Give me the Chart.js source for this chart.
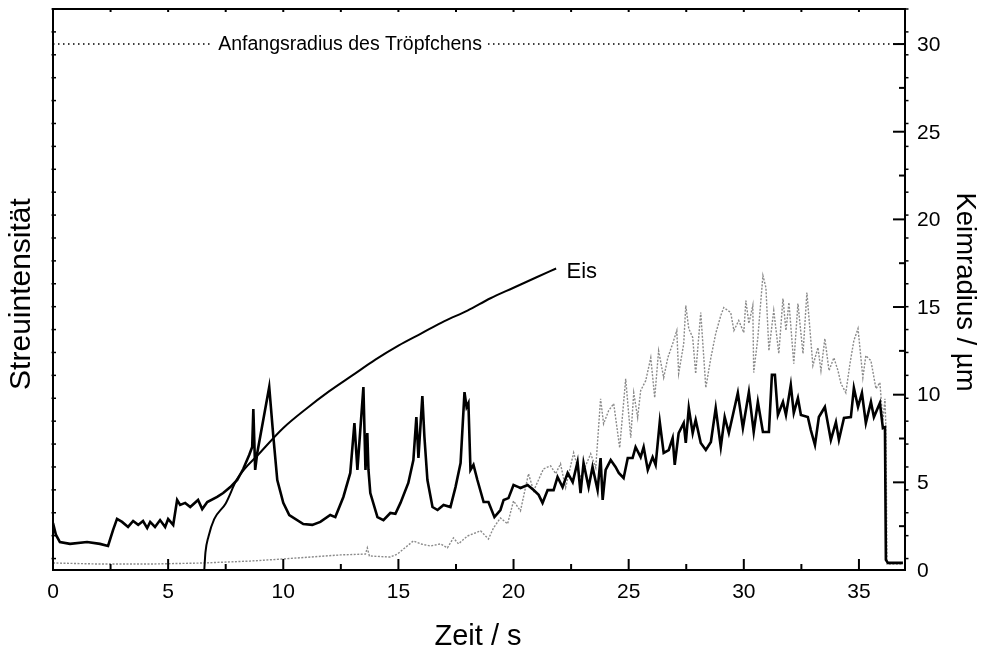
<!DOCTYPE html>
<html>
<head>
<meta charset="utf-8">
<script src="https://cdn.jsdelivr.net/npm/chart.js@4"></script>
<style>
  html, body { margin: 0; padding: 0; background: #fff; }
  canvas { display: block; }
</style>
</head>
<body>
<canvas id="chart" width="991" height="648"></canvas>
<script>
// ---- data -------------------------------------------------------------------
// black line: scattered intensity (left axis, arbitrary units)
const zeitStreu = [0, 0.13, 0.3, 0.74, 1.48, 2.04, 2.39, 2.61, 2.78, 3.0, 3.26, 3.48, 3.7, 3.91, 4.09, 4.22,
  4.43, 4.65, 4.87, 5.0, 5.22, 5.39, 5.52, 5.74, 5.96, 6.3, 6.48, 6.7, 7.13, 7.39, 7.7, 8.0, 8.26, 8.52,
  8.65, 8.7, 8.78, 8.87, 9.13, 9.39, 9.57, 9.74, 10.0, 10.26, 10.87, 11.26, 11.61, 12.04, 12.26, 12.61,
  12.91, 13.09, 13.22, 13.48, 13.57, 13.65, 13.7, 13.78, 14.09, 14.35, 14.65, 14.87, 15.09, 15.43, 15.65,
  15.78, 15.87, 16.04, 16.13, 16.26, 16.48, 16.7, 16.96, 17.26, 17.48, 17.7, 17.87, 17.96, 18.04, 18.13,
  18.26, 18.43, 18.7, 18.91, 19.17, 19.43, 19.57, 19.78, 20.0, 20.22, 20.3, 20.61, 20.87, 21.09, 21.26,
  21.48, 21.74, 21.91, 22.13, 22.35, 22.57, 22.78, 22.91, 23.04, 23.26, 23.43, 23.65, 23.78, 23.87, 24.0,
  24.22, 24.43, 24.57, 24.78, 24.96, 25.17, 25.3, 25.52, 25.65, 25.83, 26.04, 26.17, 26.35, 26.52, 26.74,
  26.91, 27.0, 27.17, 27.39, 27.48, 27.61, 27.78, 27.91, 28.13, 28.35, 28.57, 28.78, 29.0, 29.17, 29.35,
  29.74, 29.96, 30.22, 30.43, 30.61, 30.83, 31.09, 31.22, 31.35, 31.48, 31.7, 31.83, 32.04, 32.17, 32.35,
  32.48, 32.78, 32.91, 33.09, 33.26, 33.52, 33.78, 34.0, 34.13, 34.35, 34.65, 34.78, 34.96, 35.13, 35.3,
  35.52, 35.65, 35.91, 36.04, 36.13, 36.17, 36.26, 36.91];
const streuIntensitaet = [1.55, 1.03, 0.72, 0.64, 0.72, 0.64, 0.55, 1.25, 1.73, 1.6, 1.38, 1.64, 1.47, 1.64,
  1.33, 1.6, 1.38, 1.68, 1.38, 1.73, 1.47, 2.56, 2.34, 2.43, 2.25, 2.56, 2.16, 2.47, 2.69, 2.86, 3.12, 3.43,
  3.91, 4.52, 4.87, 6.53, 3.87, 4.61, 6.05, 7.49, 5.31, 3.43, 2.43, 1.9, 1.51, 1.47, 1.6, 1.9, 1.81, 2.69,
  3.74, 5.92, 3.87, 7.49, 3.87, 5.48, 3.87, 2.86, 1.81, 1.68, 1.99, 1.95, 2.43, 3.3, 4.3, 6.18, 4.39, 7.1,
  5.31, 3.43, 2.25, 2.12, 2.34, 2.25, 3.12, 4.17, 7.27, 6.62, 6.79, 3.87, 4.09, 3.43, 2.47, 2.47, 1.81,
  2.12, 2.56, 2.64, 3.21, 3.12, 3.08, 3.21, 2.99, 2.78, 2.43, 2.99, 2.99, 3.56, 3.12, 3.74, 3.34, 4.22,
  2.86, 4.17, 3.12, 4.0, 2.99, 4.39, 2.56, 3.87, 4.3, 4.0, 3.74, 3.52, 4.39, 4.39, 4.87, 4.43, 4.87, 3.87,
  4.43, 4.09, 5.96, 4.61, 4.74, 5.26, 4.09, 5.48, 5.92, 5.05, 6.57, 5.48, 6.05, 5.05, 4.74, 5.09, 6.57,
  4.87, 6.18, 5.48, 7.23, 5.7, 7.27, 5.53, 6.84, 5.53, 5.53, 8.02, 8.02, 6.27, 6.84, 6.27, 7.58, 6.36,
  7.01, 6.27, 6.18, 5.61, 4.96, 6.18, 6.62, 5.18, 5.96, 5.18, 6.14, 6.18, 7.45, 6.62, 7.23, 5.92, 6.84,
  6.18, 6.79, 5.7, 5.74, -0.06, -0.19, -0.19];

// grey dotted line (right axis, µm)
const zeitGrau = [0, 2.04, 4.22, 6.52, 8.57, 10.0, 12.48, 13.57, 13.65, 13.74, 14.65, 14.96, 15.65, 15.96,
  16.39, 16.83, 17.13, 17.39, 17.61, 18.0, 18.57, 18.91, 19.13, 19.43, 19.74, 20.0, 20.3, 20.65, 20.87,
  21.3, 21.61, 21.83, 22.04, 22.26, 22.61, 22.91, 23.35, 23.57, 23.78, 23.91, 24.13, 24.35, 24.61, 24.87,
  25.09, 25.22, 25.39, 25.52, 25.74, 25.96, 26.13, 26.3, 26.52, 26.7, 26.91, 27.09, 27.17, 27.39, 27.48,
  27.61, 27.78, 27.91, 28.13, 28.35, 28.57, 28.78, 29.0, 29.13, 29.43, 29.57, 29.78, 30.0, 30.09, 30.22,
  30.39, 30.43, 30.61, 30.83, 30.96, 31.09, 31.3, 31.52, 31.7, 31.83, 31.96, 32.17, 32.35, 32.57, 32.74,
  33.0, 33.22, 33.35, 33.52, 33.7, 33.91, 34.09, 34.22, 34.43, 34.61, 34.78, 34.96, 35.17, 35.3, 35.52,
  35.74, 35.91, 36.04, 36.13, 36.17, 36.22, 36.91];
const radiusGrau = [0.4, 0.34, 0.34, 0.4, 0.51, 0.63, 0.86, 0.91, 1.26, 0.8, 0.74, 0.91, 1.66, 1.49, 1.37,
  1.49, 1.26, 1.83, 1.49, 1.94, 2.23, 1.77, 2.4, 2.97, 2.63, 3.94, 3.37, 5.49, 4.51, 5.77, 5.94, 5.49,
  6.06, 4.69, 6.69, 5.26, 6.63, 5.83, 9.77, 8.34, 9.09, 9.49, 6.97, 10.91, 7.54, 10.11, 8.69, 10.23, 10.8,
  12.11, 9.83, 12.51, 10.97, 12.11, 12.91, 13.66, 11.2, 12.91, 15.09, 13.77, 13.26, 11.2, 14.69, 10.4,
  12.11, 13.49, 14.51, 14.97, 14.69, 13.66, 14.23, 13.54, 15.37, 14.06, 15.09, 11.26, 13.26, 16.8, 16.11,
  12.51, 14.8, 12.34, 15.49, 13.66, 15.26, 11.77, 15.2, 12.34, 15.83, 11.66, 12.69, 11.37, 13.2, 11.37,
  12.11, 11.37, 10.63, 10.11, 11.77, 13.09, 13.77, 10.97, 12.23, 11.94, 10.34, 10.69, 8.51, 9.77, 8.11,
  0.34, 0.34];

// ice germ radius (right axis, µm)
const zeitEis = [6.57, 6.62, 6.75, 7.0, 7.5, 8, 9, 10, 11, 12, 13, 14, 15, 16, 17, 18, 19, 20, 21, 21.85];
const radiusEis = [0, 1.0, 1.9, 2.9, 3.8, 5.2, 6.7, 8.1, 9.2, 10.2, 11.1, 12.0, 12.8, 13.5, 14.2, 14.8,
  15.5, 16.1, 16.7, 17.2];

// initial droplet radius
const anfangsRadius = 30;

// axes
const xMin = 0, xMax = 37;
const xTicks = [0, 5, 10, 15, 20, 25, 30, 35];
const xMinorTicks = [2.5, 7.5, 12.5, 17.5, 22.5, 27.5, 32.5];
const radiusMin = 0, radiusMax = 32;
const radiusTicks = [0, 5, 10, 15, 20, 25, 30];
const radiusMinorTicks = [2.5, 7.5, 12.5, 17.5, 22.5, 27.5];
const streuMin = -0.5, streuMax = 24;

const FONT = '"Liberation Sans", Arial, Helvetica, sans-serif';
const toXY = (xs, ys) => xs.map((x, i) => ({ x, y: ys[i] }));

// ---- axes, ticks and annotations drawn through the chart's scales -----------
const frameAxes = {
  id: 'frameAxes',
  afterDatasetsDraw(chart) {
    const { ctx, scales } = chart;
    const x = scales.x, yR = scales.yR;

    // droplet radius label on a white background
    const lx = x.getPixelForValue(12.9), ly = yR.getPixelForValue(anfangsRadius);
    ctx.save();
    ctx.font = '19.5px ' + FONT;
    const txt = 'Anfangsradius des Tröpfchens';
    const w = ctx.measureText(txt).width;
    ctx.fillStyle = '#fff';
    ctx.fillRect(lx - w / 2 - 6, ly - 10, w + 12, 20);
    ctx.fillStyle = '#000';
    ctx.textAlign = 'center';
    ctx.textBaseline = 'middle';
    ctx.fillText(txt, lx, ly + 1);

    // "Eis" label
    ctx.font = '22px ' + FONT;
    ctx.textAlign = 'left';
    ctx.fillText('Eis', x.getPixelForValue(22.3), yR.getPixelForValue(17.0));
    ctx.restore();
  },
  afterDraw(chart) {
    const { ctx, chartArea: a, scales } = chart;
    const x = scales.x, yR = scales.yR, yL = scales.yL;
    const L = Math.round(a.left), R = Math.round(a.right), T = Math.round(a.top), B = Math.round(a.bottom);
    ctx.save();
    ctx.strokeStyle = '#000';
    ctx.lineWidth = 2;
    ctx.strokeRect(L, T, R - L, B - T);

    const line = (x1, y1, x2, y2) => { ctx.beginPath(); ctx.moveTo(x1, y1); ctx.lineTo(x2, y2); ctx.stroke(); };

    // x ticks: inward on bottom, small on top
    xTicks.forEach(v => { const px = x.getPixelForValue(v); line(px, B, px, B - 11); line(px, T, px, T + 3); });
    xMinorTicks.forEach(v => { const px = x.getPixelForValue(v); line(px, B, px, B - 6); line(px, T, px, T + 3); });

    // left axis (intensity): unlabeled ticks, mirrored outward on the right
    ctx.lineWidth = 1.5;
    for (let v = 0; v <= streuMax; v++) {
      const py = yL.getPixelForValue(v);
      line(L - 1.5, py, L + 3, py);
      line(R, py, R + 3.5, py);
    }

    // right axis (radius): inward ticks
    ctx.lineWidth = 2;
    radiusTicks.forEach(v => { const py = yR.getPixelForValue(v); line(R, py, R - 12, py); });
    radiusMinorTicks.forEach(v => { const py = yR.getPixelForValue(v); line(R, py, R - 6, py); });

    // tick labels
    ctx.fillStyle = '#000';
    ctx.font = '21px ' + FONT;
    ctx.textAlign = 'center';
    ctx.textBaseline = 'middle';
    xTicks.forEach(v => ctx.fillText(String(v), x.getPixelForValue(v), 592));
    ctx.textAlign = 'left';
    radiusTicks.forEach(v => ctx.fillText(String(v), R + 12, yR.getPixelForValue(v) + 1));

    // axis titles
    ctx.font = '29px ' + FONT;
    ctx.textAlign = 'center';
    ctx.textBaseline = 'alphabetic';
    ctx.fillText('Zeit / s', 478, 645);

    ctx.textBaseline = 'middle';
    ctx.save();
    ctx.font = '30px ' + FONT;
    ctx.translate(22, 294);
    ctx.rotate(-Math.PI / 2);
    ctx.fillText('Streuintensität', 0, 0);
    ctx.restore();

    ctx.save();
    ctx.font = '27.5px ' + FONT;
    ctx.translate(965, 292);
    ctx.rotate(Math.PI / 2);
    ctx.fillText('Keimradius / µm', 0, 0);
    ctx.restore();

    ctx.restore();
  },
};

new Chart(document.getElementById('chart'), {
  type: 'line',
  data: {
    datasets: [
      {
        label: 'Streuintensität',
        data: toXY(zeitStreu, streuIntensitaet),
        yAxisID: 'yL',
        borderColor: '#000',
        borderWidth: 2.6,
        pointRadius: 0,
        tension: 0,
      },
      {
        label: 'Eis',
        data: toXY(zeitEis, radiusEis),
        yAxisID: 'yR',
        borderColor: '#000',
        borderWidth: 2,
        pointRadius: 0,
        cubicInterpolationMode: 'monotone',
      },
      {
        label: 'Keimradius',
        data: toXY(zeitGrau, radiusGrau),
        yAxisID: 'yR',
        borderColor: '#8a8a8a',
        borderWidth: 1.4,
        borderDash: [2, 1.5],
        pointRadius: 0,
        tension: 0,
      },
      {
        label: 'Anfangsradius',
        data: [{ x: xMin, y: anfangsRadius }, { x: xMax, y: anfangsRadius }],
        yAxisID: 'yR',
        borderColor: '#000',
        borderWidth: 1.5,
        borderDash: [1.5, 3.5],
        pointRadius: 0,
      },
    ],
  },
  plugins: [frameAxes],
  options: {
    responsive: false,
    animation: false,
    events: [],
    layout: { padding: { left: 53, right: 86, top: 9, bottom: 78 } },
    plugins: { legend: { display: false }, tooltip: { enabled: false } },
    scales: {
      x: { type: 'linear', min: xMin, max: xMax, display: false },
      yL: { type: 'linear', position: 'left', min: streuMin, max: streuMax, display: false },
      yR: { type: 'linear', position: 'right', min: radiusMin, max: radiusMax, display: false },
    },
  },
});
</script>
</body>
</html>
